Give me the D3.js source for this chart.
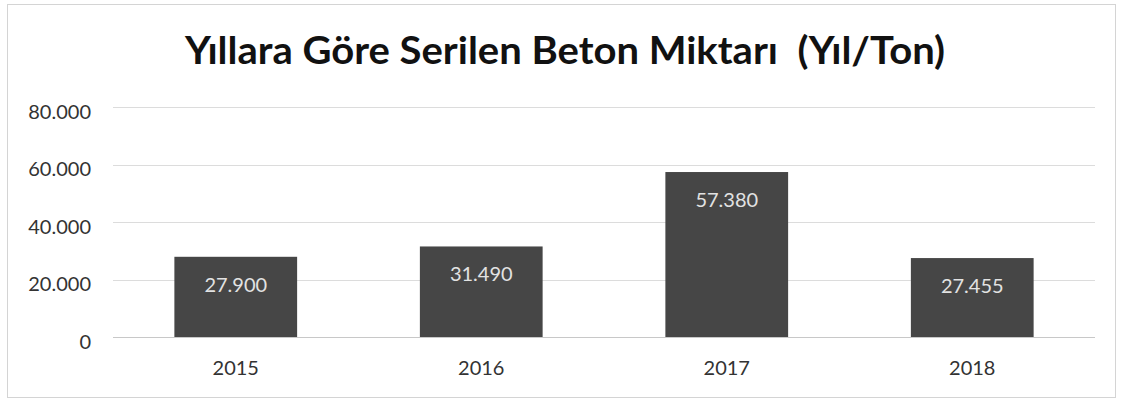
<!DOCTYPE html>
<html>
<head>
<meta charset="utf-8">
<script src="https://cdn.jsdelivr.net/npm/d3@7"></script>
<style>
  html, body { margin: 0; padding: 0; background: #fff; }
  svg { display: block; }
  text { font-family: Lato, "Open Sans", "Liberation Sans", sans-serif; }
</style>
</head>
<body>
<svg id="chart" width="1123" height="402"></svg>
<script>
// Annual poured concrete (tons)
const years = ["2015", "2016", "2017", "2018"];
const tons = [27900, 31490, 57380, 27455];
const tickValues = [0, 20000, 40000, 60000, 80000];
const titleText = "Yıllara Göre Serilen Beton Miktarı  (Yıl/Ton)";

const W = 1123, H = 402;
const margin = { top: 107, right: 28, bottom: 65, left: 113 };
const svg = d3.select("#chart");

// thousands separated with a dot
const fmt = v => d3.format(",")(v).replace(/,/g, ".");

// outer frame
svg.append("rect")
  .attr("x", 7.5).attr("y", 4.5)
  .attr("width", 1108).attr("height", 393)
  .attr("fill", "#fff").attr("stroke", "#d4d4d4").attr("stroke-width", 1);

const x = d3.scaleBand()
  .domain(years)
  .range([margin.left, W - margin.right])
  .paddingInner(0.5).paddingOuter(0.25);

const y = d3.scaleLinear()
  .domain([0, 80000])
  .range([H - margin.bottom, margin.top]);

// horizontal gridlines
svg.append("g")
  .selectAll("line")
  .data(tickValues)
  .join("line")
  .attr("x1", margin.left).attr("x2", W - margin.right)
  .attr("y1", d => Math.round(y(d)) + 0.5)
  .attr("y2", d => Math.round(y(d)) + 0.5)
  .attr("stroke", d => d === 0 ? "#c8c8c8" : "#dcdcdc")
  .attr("stroke-width", 1);

// y axis labels
const yAxis = d3.axisLeft(y).tickValues(tickValues).tickFormat(fmt).tickSize(0).tickPadding(0);
const gy = svg.append("g")
  .attr("transform", `translate(${margin.left - 22},0)`)
  .call(yAxis);
gy.select(".domain").remove();
gy.selectAll("text")
  .attr("font-family", "Lato, 'Open Sans', sans-serif")
  .attr("font-size", 20)
  .attr("fill", "#333")
  .attr("dy", "0.55em");

// bars
svg.append("g")
  .selectAll("rect")
  .data(years)
  .join("rect")
  .attr("x", d => x(d))
  .attr("width", x.bandwidth())
  .attr("y", (d, i) => y(tons[i]))
  .attr("height", (d, i) => y(0) - y(tons[i]))
  .attr("fill", "#464646");

// value labels inside the bars
svg.append("g")
  .selectAll("text")
  .data(years)
  .join("text")
  .attr("x", d => x(d) + x.bandwidth() / 2)
  .attr("y", (d, i) => y(tons[i]) + 35)
  .attr("text-anchor", "middle")
  .attr("font-size", 20)
  .attr("fill", "#e2e2e2")
  .text((d, i) => fmt(tons[i]));

// x axis labels
const xAxis = d3.axisBottom(x).tickSize(0).tickPadding(0);
const gx = svg.append("g")
  .attr("transform", `translate(0,${H - margin.bottom + 24})`)
  .call(xAxis);
gx.select(".domain").remove();
gx.selectAll("text")
  .attr("font-family", "Lato, 'Open Sans', sans-serif")
  .attr("font-size", 20)
  .attr("fill", "#333");

// title
svg.append("text")
  .attr("x", 565)
  .attr("y", 64)
  .attr("text-anchor", "middle")
  .attr("font-size", 38)
  .attr("font-weight", 700)
  .attr("fill", "#111")
  .attr("textLength", 760)
  .attr("lengthAdjust", "spacingAndGlyphs")
  .style("white-space", "pre")
  .text(titleText);
</script>
</body>
</html>
